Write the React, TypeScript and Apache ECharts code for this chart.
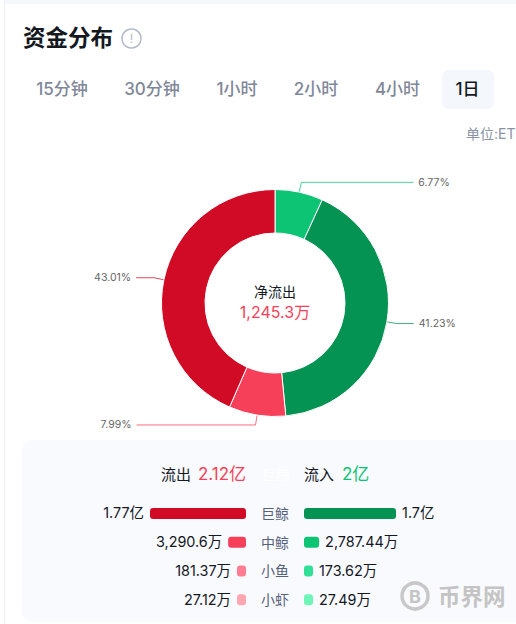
import React, { useEffect, useRef } from "react";
import * as echarts from "echarts";

const tiers = ["巨鲸", "中鲸", "小鱼", "小虾"];
const outValues = [17715, 3290.6, 181.37, 27.12];
const inValues = [16981, 2787.44, 173.62, 27.49];
const outLabels = ["1.77亿", "3,290.6万", "181.37万", "27.12万"];
const inLabels = ["1.7亿", "2,787.44万", "173.62万", "27.49万"];
const outColors = ["#d10b26", "#f63f58", "#ff7d90", "#ffa6b0"];
const inColors = ["#059354", "#0cc474", "#2fe096", "#6ef5b8"];
const tabs = ["15分钟", "30分钟", "1小时", "2小时", "4小时", "1日"];
const tabCenters = [62, 152, 237, 316, 397.5, 467.5];
const pieNames = ["中鲸流入", "巨鲸流入", "中鲸流出", "巨鲸流出"];
const pieValues = [6.77, 41.23, 7.99, 43.01];
const pieLabels = ["6.77%", "41.23%", "7.99%", "43.01%"];
const pieColors = [inColors[1], inColors[0], outColors[1], outColors[0]];
const font = "Inter, 'Noto Sans CJK SC', sans-serif";

const lineTail = [112, 17, 119, 18];

export default function App() {
  const ref = useRef<HTMLDivElement>(null);
  useEffect(() => {
    document.body.style.margin = "0";
    const chart = echarts.init(ref.current!, null, { renderer: "svg" });
    const txt = (text: string, x: number, y: number, size: number, fill: string, extra: any = {}) => ({
      type: "text",
      x,
      y,
      style: { text, fontSize: size, fill, fontFamily: font, align: "left", verticalAlign: "middle", ...extra },
    });
    chart.setOption({
      animation: false,
      backgroundColor: "#ffffff",
      graphic: [
        { type: "rect", shape: { x: 5, y: 0, width: 511, height: 4 }, style: { fill: "#f4f7fc" } },
        { type: "rect", shape: { x: 4, y: 0, width: 1, height: 624 }, style: { fill: "#efefef" } },
        { type: "rect", shape: { x: 22, y: 440, width: 510, height: 182, r: 10 }, style: { fill: "#f9fafe" } },
        { type: "rect", shape: { x: 442, y: 70, width: 52, height: 39, r: 6 }, style: { fill: "#f4f7fb" } },
        txt("资金分布", 23, 37.5, 22.5, "#14181f", { fontWeight: 700 }),
        { type: "circle", shape: { cx: 131.5, cy: 38.5, r: 9.5 }, style: { fill: "none", stroke: "#b2b9c8", lineWidth: 1.5 } },
        txt("!", 131.5, 38.5, 12, "#b2b9c8", { align: "center" }),
        ...tabs.map((t, i) =>
          txt(t, tabCenters[i], 89, 17, i === 5 ? "#14181f" : "#7f8798", { align: "center", fontWeight: 500 })
        ),
        txt("单位:ET", 466, 133, 14, "#8a93a5"),
        txt("净流出", 275, 291, 14, "#14181f", { align: "center" }),
        txt("1,245.3万", 275, 312, 16, "#f63f58", { align: "center" }),
        txt("流出", 161, 474, 15, "#14181f"),
        txt("2.12亿", 198, 474, 17, "#f63f58"),
        txt(tiers[0], 262, 474, 14, "#ffffff"),
        txt("流入", 304, 474, 15, "#14181f"),
        txt("2亿", 342, 474, 17, "#0cc474"),
        { type: "circle", z: 10, shape: { cx: 415, cy: 596, r: 13 }, style: { fill: "none", stroke: "#c8c8c8", lineWidth: 3.5 } },
        { ...txt("B", 415, 596, 18, "#c4c4c4", { align: "center", fontWeight: 700 }), z: 10 },
        { ...txt("币界网", 438, 596, 22.5, "#c4c4c4", { fontWeight: 700 }), z: 10 },
      ],
      grid: [
        { left: 150, top: 499, width: 96, height: 115 },
        { left: 304, top: 499, width: 96, height: 115 },
      ],
      xAxis: [
        { type: "value", gridIndex: 0, inverse: true, min: 0, max: outValues[0], show: false },
        { type: "value", gridIndex: 1, min: 0, max: outValues[0], show: false },
      ],
      yAxis: [
        { type: "category", gridIndex: 0, inverse: true, data: tiers, show: false },
        {
          type: "category",
          gridIndex: 1,
          inverse: true,
          data: tiers,
          axisLine: { show: false },
          axisTick: { show: false },
          axisLabel: { margin: 15, fontSize: 14, color: "#56627c", fontFamily: font },
        },
      ],
      series: [
        {
          type: "pie",
          center: [275, 303],
          radius: [70, 113.5],
          startAngle: 90,
          clockwise: true,
          avoidLabelOverlap: false,
          itemStyle: { borderColor: "#ffffff", borderWidth: 1 },
          emphasis: { disabled: true },
          data: pieValues.map((v, i) => ({
            name: pieNames[i],
            value: v,
            itemStyle: { color: pieColors[i] },
            label: {
              show: true,
              formatter: pieLabels[i],
              fontSize: 10.5,
              color: "#666666",
              fontFamily: font,
            },
            labelLine: {
              show: true,
              length: 10,
              length2: lineTail[i],
              lineStyle: { color: pieColors[i], width: 1, opacity: 0.75 },
            },
          })),
        },
        {
          type: "bar",
          xAxisIndex: 0,
          yAxisIndex: 0,
          barWidth: 11,
          barMinHeight: 9,
          data: outValues.map((v, i) => ({
            value: v,
            itemStyle: { color: outColors[i], borderRadius: 3 },
            label: {
              show: true,
              position: "left",
              distance: 6,
              formatter: outLabels[i],
              fontSize: 14.4,
              color: "#14181f",
              fontFamily: font,
              offset: [0, -0.5],
            },
          })),
        },
        {
          type: "bar",
          xAxisIndex: 1,
          yAxisIndex: 1,
          barWidth: 11,
          barMinHeight: 9,
          data: inValues.map((v, i) => ({
            value: v,
            itemStyle: { color: inColors[i], borderRadius: 3 },
            label: {
              show: true,
              position: "right",
              distance: 6,
              formatter: inLabels[i],
              fontSize: 14.4,
              color: "#14181f",
              fontFamily: font,
              offset: [0, -0.5],
            },
          })),
        },
      ],
    });
    return () => chart.dispose();
  }, []);
  return <div ref={ref} style={{ width: 516, height: 624 }} />;
}
